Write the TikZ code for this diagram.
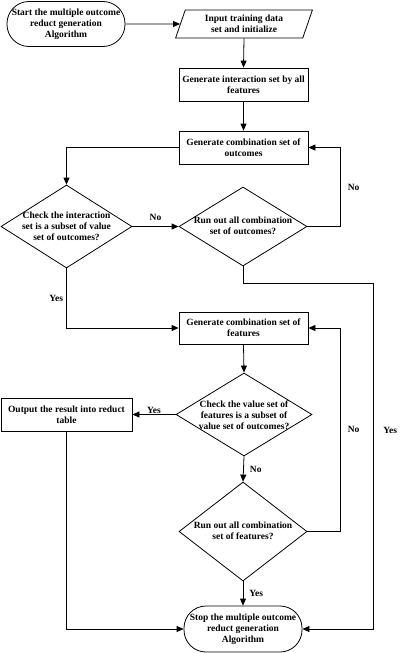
\documentclass[tikz,border=0pt]{standalone}
\usepackage{fontspec}
\setmainfont{Liberation Serif}
\usetikzlibrary{shapes.geometric,arrows.meta}
\begin{document}
\begin{tikzpicture}[x=1pt,y=-1pt,
  font=\fontsize{9.5}{11}\selectfont\bfseries,
  line width=0.8pt,
  arr/.style={-{Triangle[length=7pt,width=6pt]}},
  proc/.style={draw, rectangle, minimum width=129pt, minimum height=33pt, inner sep=0pt, align=center},
  term/.style={draw, rectangle, rounded corners=22pt, minimum width=118pt, minimum height=45pt, inner sep=0pt, align=center},
  dia/.style={draw, diamond, inner sep=0pt},
  txt/.style={inner sep=0pt, align=center},
  lbl/.style={inner sep=1pt}
]
\useasboundingbox (0,0) rectangle (401,653);

\node[term] (start) at (66,24) {Start the multiple outcome\\reduct generation\\Algorithm};
\node[draw, trapezium, trapezium left angle=70, trapezium right angle=110, trapezium stretches=true,
      minimum width=138pt, minimum height=28pt, inner sep=0pt, align=center] (inp) at (244,24) {Input training data\\set and initialize};
\node[proc] (b1) at (243.5,84.5) {Generate interaction set by all\\features};
\node[proc] (b2) at (243.5,147.5) {Generate combination set of\\outcomes};

\node[dia, minimum width=131pt, minimum height=83pt] (d1) at (66.5,226.5) {};
\node[txt] (d1t) at (66.5,226.5) {Check the interaction\\set is a subset of value\\set of outcomes?};
\node[dia, minimum width=128pt, minimum height=79pt] (d2) at (243,226.5) {};
\node[txt] (d2t) at (243,226) {Run out all combination\\set of outcomes?};

\node[proc, minimum height=32pt] (b3) at (243.5,328) {Generate combination set of\\features};

\node[dia, minimum width=136pt, minimum height=83pt] (d3) at (244,414.5) {};
\node[txt] (d3t) at (244,415) {Check the value set of\\features is a subset of\\value set of outcomes?};
\node[proc, minimum width=131pt] (out) at (66.5,414.5) {Output the result into reduct\\table};

\node[dia, minimum width=128pt, minimum height=99pt] (d4) at (243,531.5) {};
\node[txt] (d4t) at (243,531) {Run out all combination\\set of features?};

\node[term, minimum height=46pt] (stop) at (243,629) {Stop the multiple outcome\\reduct generation\\Algorithm};

\coordinate (rr) at (373,283);

\draw[arr] (start.east) -- (inp.west);
\draw[arr] (inp.south) -- (b1.north);
\draw[arr] (b1.south) -- (b2.north);
\draw[arr] (b2.west) -| (d1.north);
\draw[arr] (d1.east) -- (d2.west) node[lbl, midway, above=5pt] {No};
\draw[arr] (d2.east) -- ++(33,0) coordinate (c2) -- (c2 |- b2.east) node[lbl, midway, right=6pt] {No} -- (b2.east);
\draw[arr] (d2.south) |- (rr) |- (stop.east) node[lbl, pos=0.2125, right=9pt] {Yes};
\draw[arr] (d1.south) |- (b3.west) node[lbl, pos=0.25, left=2pt] {Yes};
\draw[arr] (b3.south) -- (d3.north);
\draw[arr] (d3.west) -- (out.east) node[lbl, midway, above=0pt] {Yes};
\draw[arr] (d3.south) -- (d4.north) node[lbl, midway, right=5pt] {No};
\draw[arr] (d4.east) -- ++(33,0) coordinate (c4) -- (c4 |- b3.east) node[lbl, midway, right=6pt] {No} -- (b3.east);
\draw[arr] (d4.south) -- (stop.north) node[lbl, midway, right=5pt] {Yes};
\draw[arr] (out.south) |- (stop.west);
\end{tikzpicture}
\end{document}
